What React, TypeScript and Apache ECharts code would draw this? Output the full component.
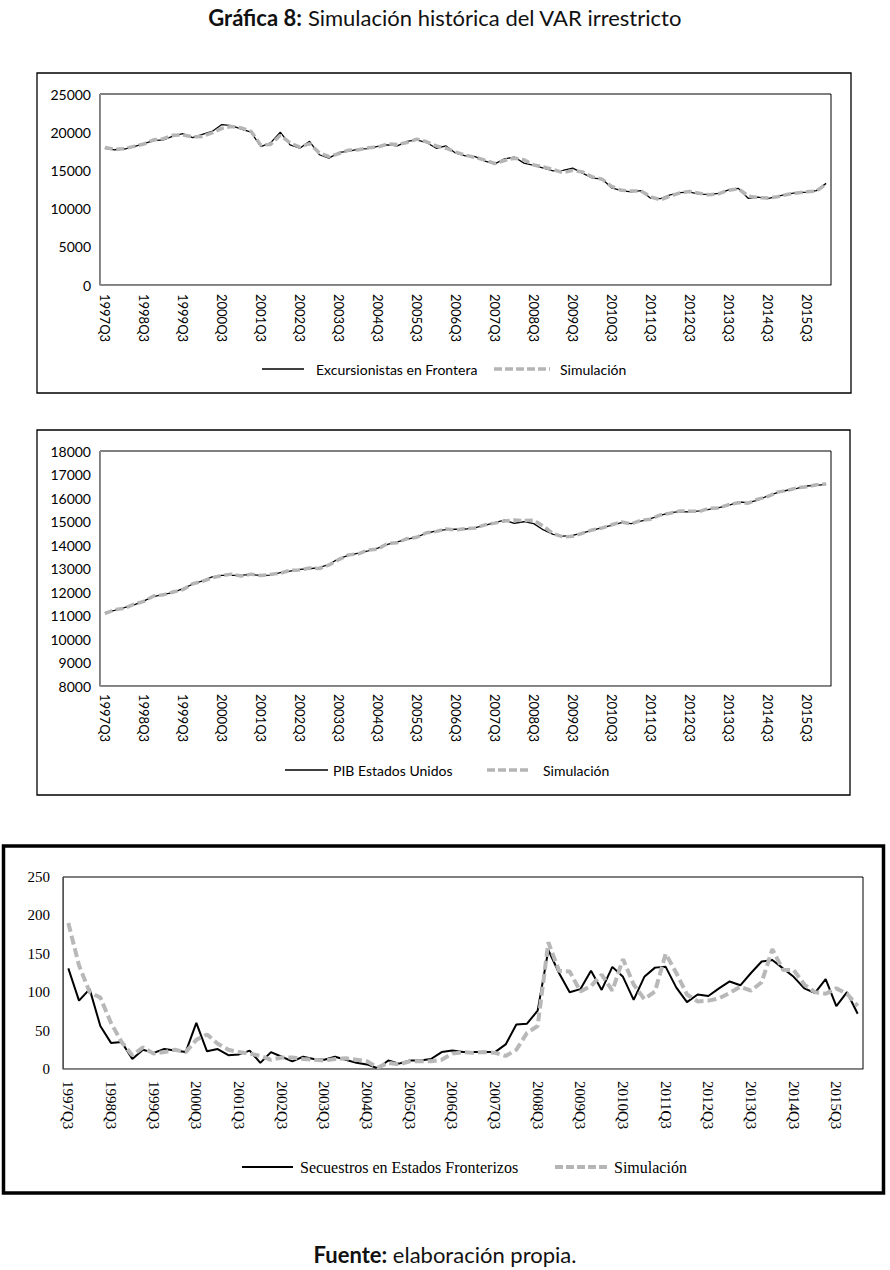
import React, { useEffect, useRef } from "react";
import * as echarts from "echarts";

const quarters = [
  "1997Q3","1997Q4","1998Q1","1998Q2","1998Q3","1998Q4","1999Q1","1999Q2","1999Q3","1999Q4",
  "2000Q1","2000Q2","2000Q3","2000Q4","2001Q1","2001Q2","2001Q3","2001Q4","2002Q1","2002Q2",
  "2002Q3","2002Q4","2003Q1","2003Q2","2003Q3","2003Q4","2004Q1","2004Q2","2004Q3","2004Q4",
  "2005Q1","2005Q2","2005Q3","2005Q4","2006Q1","2006Q2","2006Q3","2006Q4","2007Q1","2007Q2",
  "2007Q3","2007Q4","2008Q1","2008Q2","2008Q3","2008Q4","2009Q1","2009Q2","2009Q3","2009Q4",
  "2010Q1","2010Q2","2010Q3","2010Q4","2011Q1","2011Q2","2011Q3","2011Q4","2012Q1","2012Q2",
  "2012Q3","2012Q4","2013Q1","2013Q2","2013Q3","2013Q4","2014Q1","2014Q2","2014Q3","2014Q4",
  "2015Q1","2015Q2","2015Q3","2015Q4","2016Q1"
];

const excursionistas = [
  17900,17700,17800,18100,18500,18900,19000,19500,19800,19300,
  19700,20100,21000,20850,20400,20000,18100,18600,20000,18350,
  17900,18800,17050,16600,17350,17500,17800,17850,18150,18350,
  18200,18800,19000,18650,17900,18200,17250,16900,16800,16200,
  15850,16500,16750,15950,15650,15300,14950,15000,15300,14650,
  14000,13900,12700,12350,12200,12350,11350,11300,11800,12100,
  12150,11900,11850,12000,12450,12650,11350,11500,11300,11600,
  11900,12100,12150,12350,13300
];
const simExcursionistas = [
  18000,17750,17850,18150,18450,19000,19150,19600,19650,19400,
  19450,19900,20500,20750,20550,20100,18300,18400,19600,18600,
  18050,18500,17300,16800,17200,17650,17700,17950,18050,18450,
  18400,18650,19100,18750,18200,17900,17400,17000,16700,16350,
  15900,16300,16600,16400,15700,15450,15100,14700,15000,14800,
  14150,13850,12900,12400,12300,12300,11550,11150,11650,12050,
  12250,12000,11800,11950,12400,12600,11650,11450,11400,11550,
  11850,12050,12200,12300,13200
];

const pib = [
  11120,11220,11330,11450,11620,11800,11900,11970,12140,12330,
  12470,12640,12710,12710,12720,12740,12710,12720,12820,12890,
  12960,12990,13040,13180,13420,13560,13650,13750,13870,14030,
  14130,14240,14350,14500,14600,14650,14670,14680,14740,14840,
  14950,15060,14920,14990,14910,14640,14450,14380,14410,14520,
  14620,14740,14840,14950,14910,15020,15120,15260,15380,15420,
  15410,15450,15520,15590,15690,15830,15800,15910,16090,16230,
  16330,16410,16510,16540,16580
];
const simPib = [
  11080,11250,11300,11480,11600,11830,11880,12000,12100,12350,
  12450,12600,12700,12760,12680,12760,12700,12750,12800,12920,
  12940,13020,13000,13150,13380,13580,13620,13780,13830,14060,
  14100,14270,14330,14520,14580,14680,14640,14700,14720,14860,
  14930,15020,15060,15040,15060,14800,14480,14350,14370,14500,
  14640,14720,14860,14980,14900,15050,15100,15280,15350,15450,
  15440,15430,15560,15580,15720,15800,15780,15950,16060,16250,
  16320,16430,16480,16560,16600
];

const secuestros = [
  131,89,104,56,34,35,13,25,21,26,
  24,22,60,23,26,18,19,24,8,22,
  16,10,16,13,12,16,12,8,6,1,
  11,7,11,11,13,22,24,22,22,22,
  22,32,58,59,76,155,125,100,104,128,
  103,133,120,90,120,132,133,106,87,97,
  95,105,114,109,125,140,142,131,120,105,
  99,117,82,100,72
];
const simSecuestros = [
  190,135,100,93,60,35,18,28,20,22,
  25,22,38,45,33,25,22,20,17,12,
  15,15,13,12,11,13,14,12,10,2,
  8,6,10,10,10,12,20,22,21,22,
  21,17,25,47,56,165,128,127,101,108,
  123,102,143,110,91,101,150,125,97,88,
  89,92,99,107,102,113,156,129,129,110,
  100,98,105,98,82
];

const SANS = "Lato, 'Open Sans', sans-serif";
const SERIF = "'Liberation Serif', 'DejaVu Serif', serif";

const plain = (v: number) => String(v);

export default function App() {
  const ref = useRef<HTMLDivElement>(null);

  useEffect(() => {
    if (!ref.current) return;
    const chart = echarts.init(ref.current, undefined, { renderer: "svg" });

    const xAxisFor = (gi: number, font: string, size: number, margin: number) => ({
      type: "category",
      gridIndex: gi,
      data: quarters,
      boundaryGap: true,
      axisLine: { lineStyle: { color: "#8c8c8c", width: 1 } },
      axisTick: { show: false },
      splitLine: { show: false },
      axisLabel: {
        interval: 3,
        rotate: -90,
        margin,
        fontFamily: font,
        fontSize: size,
        color: "#000",
      },
    });

    const legendGraphic = (
      y: number,
      l1x: number, l1w: number, t1x: number, t1: string,
      l2x: number, l2w: number, t2x: number, t2: string,
      font: string, size: number, blackW: number, grayW: number, dash: number[]
    ) => [
      { type: "line", shape: { x1: l1x, y1: y, x2: l1x + l1w, y2: y }, style: { stroke: "#000", lineWidth: blackW } },
      { type: "text", x: t1x, y, style: { text: t1, fontFamily: font, fontSize: size, fill: "#000", textVerticalAlign: "middle", verticalAlign: "middle" } },
      { type: "line", shape: { x1: l2x, y1: y, x2: l2x + l2w, y2: y }, style: { stroke: "#b5b5b5", lineWidth: grayW, lineDash: dash } },
      { type: "text", x: t2x, y, style: { text: t2, fontFamily: font, fontSize: size, fill: "#000", textVerticalAlign: "middle", verticalAlign: "middle" } },
    ];

    const option: any = {
      animation: false,
      backgroundColor: "#fff",
      title: [
        {
          text: "{b|Gráfica 8:} Simulación histórica del VAR irrestricto",
          left: "center",
          top: 1,
          textStyle: {
            fontFamily: SANS,
            fontSize: 22,
            fontWeight: "normal",
            color: "#111",
            rich: { b: { fontFamily: SANS, fontSize: 22, fontWeight: "bold", color: "#111" } },
          },
        },
        {
          text: "{b|Fuente:} elaboración propia.",
          left: "center",
          top: 1238,
          textStyle: {
            fontFamily: SANS,
            fontSize: 22,
            fontWeight: "normal",
            color: "#111",
            rich: { b: { fontFamily: SANS, fontSize: 22, fontWeight: "bold", color: "#111" } },
          },
        },
      ],
      grid: [
        { left: 100, top: 94, width: 731, height: 191, show: true, borderColor: "#000", borderWidth: 1, backgroundColor: "transparent" },
        { left: 100, top: 451, width: 731, height: 235, show: true, borderColor: "#000", borderWidth: 1, backgroundColor: "transparent" },
        { left: 63, top: 877, width: 800, height: 192, show: true, borderColor: "#000", borderWidth: 1, backgroundColor: "transparent" },
      ],
      xAxis: [
        xAxisFor(0, SANS, 13, 9),
        xAxisFor(1, SANS, 13, 8),
        xAxisFor(2, SERIF, 15, 12),
      ],
      yAxis: [
        {
          type: "value", gridIndex: 0, min: 0, max: 25000, interval: 5000,
          axisLine: { show: true, lineStyle: { color: "#8c8c8c" } }, axisTick: { show: false }, splitLine: { show: false },
          axisLabel: { fontFamily: SANS, fontSize: 14, color: "#000", margin: 9, formatter: plain },
        },
        {
          type: "value", gridIndex: 1, min: 8000, max: 18000, interval: 1000,
          axisLine: { show: true, lineStyle: { color: "#8c8c8c" } }, axisTick: { show: false }, splitLine: { show: false },
          axisLabel: { fontFamily: SANS, fontSize: 14, color: "#000", margin: 9, formatter: plain },
        },
        {
          type: "value", gridIndex: 2, min: 0, max: 250, interval: 50,
          axisLine: { show: true, lineStyle: { color: "#555" } }, axisTick: { show: false }, splitLine: { show: false },
          axisLabel: { fontFamily: SERIF, fontSize: 15, color: "#000", margin: 13, formatter: plain },
        },
      ],
      series: [
        { name: "Excursionistas en Frontera", type: "line", xAxisIndex: 0, yAxisIndex: 0, data: excursionistas, symbol: "none", lineStyle: { color: "#000", width: 1.3 } },
        { name: "Simulación", type: "line", xAxisIndex: 0, yAxisIndex: 0, data: simExcursionistas, symbol: "none", lineStyle: { color: "#b5b5b5", width: 3.5, type: [8, 3.5] } },
        { name: "PIB Estados Unidos", type: "line", xAxisIndex: 1, yAxisIndex: 1, data: pib, symbol: "none", lineStyle: { color: "#000", width: 1.3 } },
        { name: "Simulación", type: "line", xAxisIndex: 1, yAxisIndex: 1, data: simPib, symbol: "none", lineStyle: { color: "#b5b5b5", width: 3.5, type: [8, 3.5] } },
        { name: "Secuestros en Estados Fronterizos", type: "line", xAxisIndex: 2, yAxisIndex: 2, data: secuestros, symbol: "none", lineStyle: { color: "#000", width: 2 } },
        { name: "Simulación", type: "line", xAxisIndex: 2, yAxisIndex: 2, data: simSecuestros, symbol: "none", lineStyle: { color: "#b8b8b8", width: 4, type: [9, 4] } },
      ],
      graphic: [
        { type: "rect", shape: { x: 37, y: 73, width: 814, height: 320 }, style: { fill: "none", stroke: "#000", lineWidth: 1.3 }, z: -1 },
        { type: "rect", shape: { x: 37, y: 430, width: 813, height: 365 }, style: { fill: "none", stroke: "#000", lineWidth: 1.3 }, z: -1 },
        { type: "rect", shape: { x: 3.5, y: 846, width: 880, height: 347 }, style: { fill: "none", stroke: "#000", lineWidth: 3.5 }, z: -1 },
        ...legendGraphic(369, 262, 42, 316, "Excursionistas en Frontera", 494, 56, 560, "Simulación", SANS, 14, 1.5, 3.5, [8, 3]),
        ...legendGraphic(770, 285, 43, 333, "PIB Estados Unidos", 487, 42, 543, "Simulación", SANS, 14, 1.5, 3.5, [8, 3]),
        ...legendGraphic(1167, 242, 51, 300, "Secuestros en Estados Fronterizos", 555, 55, 614, "Simulación", SERIF, 16, 2, 4, [8, 3]),
      ],
    };

    chart.setOption(option);
    return () => chart.dispose();
  }, []);

  return (
    <div
      ref={ref}
      style={{ position: "absolute", left: 0, top: 0, width: 890, height: 1270, background: "#fff" }}
    />
  );
}
